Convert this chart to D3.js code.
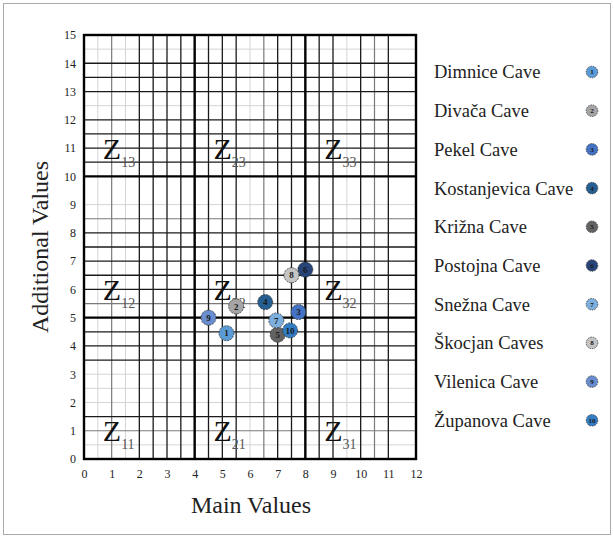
<!DOCTYPE html>
<html>
<head>
<meta charset="utf-8">
<script src="https://cdn.jsdelivr.net/npm/d3@7"></script>
<style>
  body { margin: 0; background: #fff; }
  svg text { font-family: "Times New Roman", "Liberation Serif", Times, serif; }
</style>
</head>
<body>
<div id="chart"></div>
<script>
// cave data
const caves = ["Dimnice Cave", "Divača Cave", "Pekel Cave", "Kostanjevica Cave", "Križna Cave",
               "Postojna Cave", "Snežna Cave", "Škocjan Caves", "Vilenica Cave", "Županova Cave"];
const mainValues = [5.15, 5.5, 7.75, 6.55, 7.0, 8.0, 6.95, 7.5, 4.5, 7.45];
const additionalValues = [4.45, 5.4, 5.2, 5.55, 4.4, 6.7, 4.9, 6.5, 5.0, 4.55];
const caveColors = ["#5b9bd5", "#a5a5a5", "#4472c4", "#255e91", "#636363",
                    "#264478", "#7cafdd", "#c4c4c4", "#698ed0", "#327dc2"];

const xTicks = d3.range(0, 13);
const yTicks = d3.range(0, 16);

// grid lines by strength
const xGridLight = [0.5, 1.5, 6, 9.5];
const xGridMedium = [1, 6.5, 10.5];
const xGridDark = [2, 2.5, 3, 3.5, 4.5, 5, 5.5, 7, 7.5, 8.5, 9, 10, 11];
const yGridLight = [0.5, 2, 2.5, 3, 9, 12.5, 14.5];
const yGridMedium = [1, 5.5, 8.5];
const yGridDark = [1.5, 3.5, 4, 4.5, 6, 6.5, 7, 7.5, 8, 10.5, 11, 11.5, 12, 13, 13.5, 14];
const xZoneBounds = [4, 8];
const yZoneBounds = [5, 10];

// zone labels Z_ij (column i, row j)
const zoneCols = [1, 2, 3];
const zoneRows = [1, 2, 3];

const W = 614, H = 538;
const serif = '"Times New Roman", "Liberation Serif", Times, serif';

const svg = d3.select("#chart").append("svg")
    .attr("width", W)
    .attr("height", H)
    .style("font-family", serif);

// outer frame
svg.append("rect")
    .attr("x", 3.5).attr("y", 3.5)
    .attr("width", W - 7).attr("height", H - 7)
    .attr("fill", "none")
    .attr("stroke", "#aaa");

let x = d3.scaleLinear().domain([0, 12]).range([84, 416]);
let y = d3.scaleLinear().domain([0, 15]).range([459, 35]);

let grid = svg.append("g");

function vLines(vals, color, w) {
    grid.selectAll(null).data(vals).enter().append("line")
        .attr("x1", d => x(d)).attr("x2", d => x(d))
        .attr("y1", y(0)).attr("y2", y(15))
        .attr("stroke", color).attr("stroke-width", w);
}
function hLines(vals, color, w) {
    grid.selectAll(null).data(vals).enter().append("line")
        .attr("y1", d => y(d)).attr("y2", d => y(d))
        .attr("x1", x(0)).attr("x2", x(12))
        .attr("stroke", color).attr("stroke-width", w);
}

vLines(xGridLight, "#d4d4d4", 1);
hLines(yGridLight, "#d4d4d4", 1);
vLines(xGridMedium, "#7a7a7a", 1.2);
hLines(yGridMedium, "#7a7a7a", 1.2);
vLines(xGridDark, "#1a1a1a", 1.3);
hLines(yGridDark, "#1a1a1a", 1.3);
vLines(xZoneBounds, "#000", 2.4);
hLines(yZoneBounds, "#000", 2.4);

// plot border
svg.append("rect")
    .attr("x", x(0)).attr("y", y(15))
    .attr("width", x(12) - x(0)).attr("height", y(0) - y(15))
    .attr("fill", "none")
    .attr("stroke", "#000")
    .attr("stroke-width", 2.4);

// axes
let xAxis = svg.append("g")
    .attr("transform", `translate(0,${y(0)})`)
    .call(d3.axisBottom(x).tickValues(xTicks).tickSize(0).tickPadding(10).tickFormat(d3.format("d")));
let yAxis = svg.append("g")
    .attr("transform", `translate(${x(0)},0)`)
    .call(d3.axisLeft(y).tickValues(yTicks).tickSize(0).tickPadding(8).tickFormat(d3.format("d")));
[xAxis, yAxis].forEach(a => {
    a.attr("font-family", serif).attr("font-size", 12);
    a.select(".domain").remove();
    a.selectAll("text").attr("fill", "#222");
});

svg.append("text")
    .attr("x", (x(0) + x(12)) / 2 + 1)
    .attr("y", 513)
    .attr("text-anchor", "middle")
    .style("font-size", "24px")
    .attr("fill", "#222")
    .text("Main Values");

svg.append("text")
    .attr("transform", `translate(48,${(y(0) + y(15)) / 2}) rotate(-90)`)
    .attr("text-anchor", "middle")
    .style("font-size", "24px")
    .attr("fill", "#222")
    .text("Additional Values");

// zone labels
zoneRows.forEach(r => {
    zoneCols.forEach(c => {
        let t = svg.append("text")
            .attr("x", x((c - 1) * 4 + 0.68))
            .attr("y", y((r - 1) * 5 + 0.62))
            .style("font-size", "30px")
            .attr("fill", "#111");
        t.append("tspan").text("Z");
        t.append("tspan")
            .attr("dy", 8)
            .attr("dx", 0)
            .style("font-size", "14px")
            .attr("fill", "#555")
            .text(`${c}${r}`);
    });
});

// points
let pts = svg.append("g").selectAll("g")
    .data(caves.map((c, i) => ({ name: c, x: mainValues[i], y: additionalValues[i], i })))
    .enter().append("g")
    .attr("transform", d => `translate(${x(d.x)},${y(d.y)})`);

pts.append("circle")
    .attr("r", 7.5)
    .attr("fill", d => caveColors[d.i])
    .attr("stroke", "#333")
    .attr("stroke-width", 0.8)
    .attr("stroke-dasharray", "2,1");

pts.append("text")
    .attr("text-anchor", "middle")
    .attr("dy", "0.35em")
    .style("font-size", "9px")
    .style("font-weight", "bold")
    .attr("fill", "#1a1a1a")
    .text(d => d.i + 1);

// legend
let legend = svg.append("g").selectAll("g")
    .data(caves)
    .enter().append("g")
    .attr("transform", (d, i) => `translate(0,${72 + i * 38.7})`);

legend.append("text")
    .attr("x", 434)
    .attr("dy", "0.35em")
    .style("font-size", "18.5px")
    .attr("fill", "#222")
    .text(d => d);

legend.append("circle")
    .attr("cx", 592)
    .attr("r", 5.8)
    .attr("fill", (d, i) => caveColors[i])
    .attr("stroke", "#333")
    .attr("stroke-width", 0.8)
    .attr("stroke-dasharray", "1.5,1");

legend.append("text")
    .attr("x", 592)
    .attr("dy", "0.35em")
    .attr("text-anchor", "middle")
    .style("font-size", "7px")
    .style("font-weight", "bold")
    .attr("fill", "#1a1a1a")
    .text((d, i) => i + 1);
</script>
</body>
</html>
